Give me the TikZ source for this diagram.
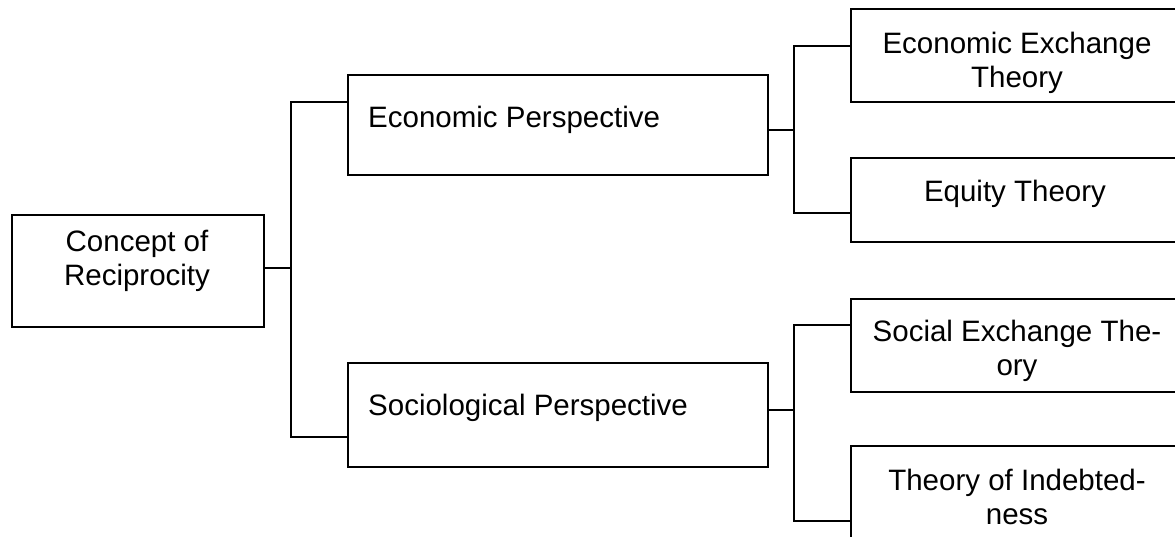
\documentclass[tikz,border=0pt]{standalone}
\usepackage{fontspec}
\setmainfont{Liberation Sans}
\begin{document}
\begin{tikzpicture}[x=1pt,y=-1pt,
  box/.style={draw=black,line width=1.8pt,rectangle,inner sep=0pt,anchor=north west},
  txt/.style={inner sep=0pt,font=\fontsize{29.5}{34}\selectfont,align=center},
  link/.style={draw=black,line width=1.8pt}]
\useasboundingbox (0,0) rectangle (1175,537);
\clip (0,0) rectangle (1175,537);
% boxes
\node[box,minimum width=252pt,minimum height=112pt] (C) at (11,214) {};
\node[box,minimum width=420pt,minimum height=100pt] (E) at (347,74) {};
\node[box,minimum width=420pt,minimum height=104pt] (S) at (347,362) {};
\node[box,minimum width=334pt,minimum height=93pt] (EET) at (850,8) {};
\node[box,minimum width=334pt,minimum height=84pt] (EQ) at (850,157) {};
\node[box,minimum width=334pt,minimum height=93pt] (SET) at (850,298) {};
\node[box,minimum width=334pt,minimum height=120pt] (TOI) at (850,445) {};
% texts
\node[txt,anchor=base] (Ct1) at (137,252) {Concept of};
\node[txt,anchor=base] (Ct2) at (137,286) {Reciprocity};
\node[txt,anchor=base west] (Et) at (368,128) {Economic Perspective};
\node[txt,anchor=base west] (St) at (368,415) {Sociological Perspective};
\node[txt,anchor=base] (EETt1) at (1017,54) {Economic Exchange};
\node[txt,anchor=base] (EETt2) at (1017,88) {Theory};
\node[txt,anchor=base] (EQt) at (1015,202) {Equity Theory};
\node[txt,anchor=base] (SETt1) at (1017,341) {Social Exchange The-};
\node[txt,anchor=base] (SETt2) at (1017,375) {ory};
\node[txt,anchor=base] (TOIt1) at (1017,490) {Theory of Indebted-};
\node[txt,anchor=base] (TOIt2) at (1017,524) {ness};
% junctions
\coordinate (j0) at (291,268);
\coordinate (j0a) at (291,102);
\coordinate (j0b) at (291,437);
\coordinate (j1) at (794,130);
\coordinate (j1a) at (794,46);
\coordinate (j1b) at (794,213);
\coordinate (j2) at (794,410);
\coordinate (j2a) at (794,325);
\coordinate (j2b) at (794,521);
% connectors
\draw[link] (C.east |- j0) -- (j0);
\draw[link] (E.west |- j0a) -- (j0a) -- (j0b) -- (S.west |- j0b);
\draw[link] (E.east |- j1) -- (j1);
\draw[link] (EET.west |- j1a) -- (j1a) -- (j1b) -- (EQ.west |- j1b);
\draw[link] (S.east |- j2) -- (j2);
\draw[link] (SET.west |- j2a) -- (j2a) -- (j2b) -- (TOI.west |- j2b);
\end{tikzpicture}
\end{document}
